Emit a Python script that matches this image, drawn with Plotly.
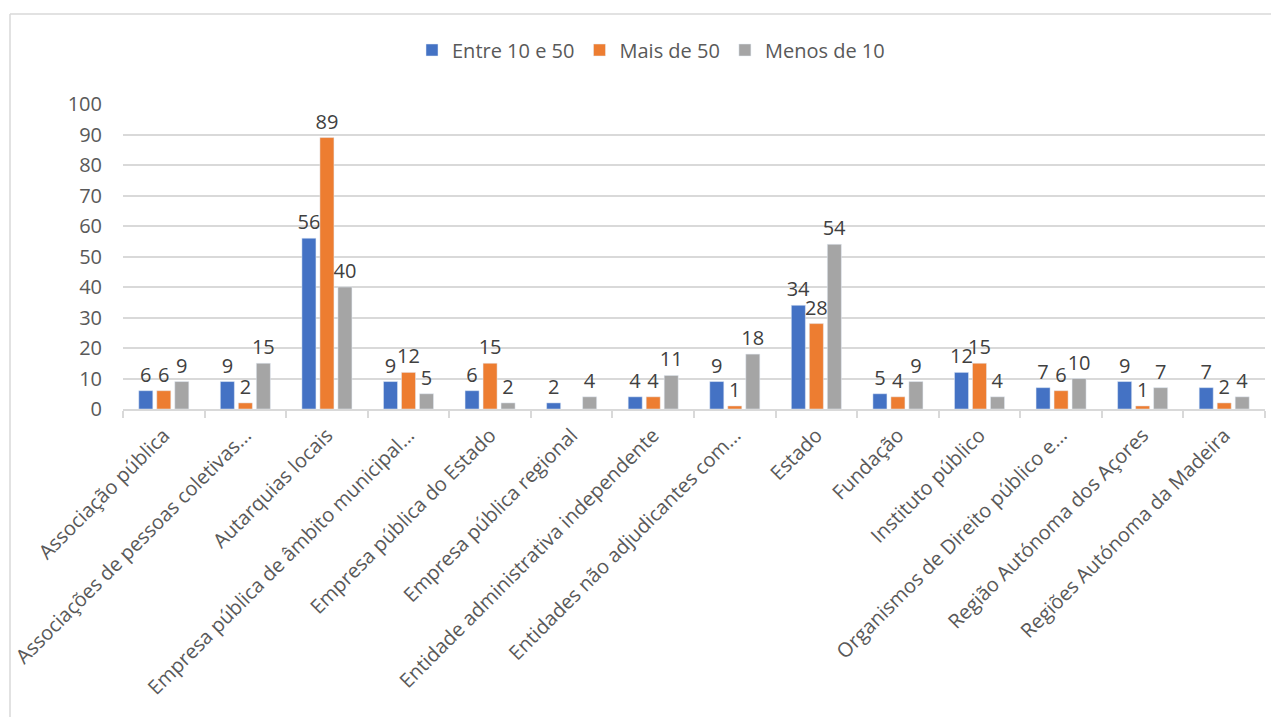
import plotly.graph_objects as go

categories = [
    "Associação pública",
    "Associações de pessoas coletivas...",
    "Autarquias locais",
    "Empresa pública de âmbito municipal...",
    "Empresa pública do Estado",
    "Empresa pública regional",
    "Entidade administrativa independente",
    "Entidades não adjudicantes com...",
    "Estado",
    "Fundação",
    "Instituto público",
    "Organismos de Direito público e...",
    "Região Autónoma dos Açores",
    "Regiões Autónoma da Madeira",
]
entre_10_50 = [6, 9, 56, 9, 6, 2, 4, 9, 34, 5, 12, 7, 9, 7]
mais_de_50 = [6, 2, 89, 12, 15, None, 4, 1, 28, 4, 15, 6, 1, 2]
menos_de_10 = [9, 15, 40, 5, 2, 4, 11, 18, 54, 9, 4, 10, 7, 4]

series = [
    ("Entre 10 e 50", entre_10_50, "#4472C4"),
    ("Mais de 50", mais_de_50, "#ED7D31"),
    ("Menos de 10", menos_de_10, "#A5A5A5"),
]

FONT = "Open Sans"
fig = go.Figure()
for name, vals, color in series:
    fig.add_trace(go.Bar(
        x=categories, y=vals, name=name, marker_color=color,
        text=[("" if v is None else str(v)) for v in vals],
        textposition="outside", cliponaxis=False, constraintext="none",
        textfont=dict(family=FONT, size=20, color="#404040"),
    ))

# page body has an 8px margin; work in page pixels and convert
OFF = 8
W, H = 1279 - OFF, 717 - OFF
L = 123 - OFF
R = W - (1265 - OFF)
T = 104 - OFF
B = H - (409 - OFF)
pw = W - L - R
ph = H - T - B

def px_x(p):
    return (p - OFF - L) / pw

def px_y(p):
    return 1 - (p - OFF - T) / ph

fig.update_layout(
    width=W, height=H,
    margin=dict(l=L, r=R, t=T, b=B, autoexpand=False),
    plot_bgcolor="white", paper_bgcolor="white",
    barmode="group", bargap=0.338, bargroupgap=0.22,
    font=dict(family=FONT, color="#595959", size=20),
    legend=dict(orientation="h", xref="container", yref="container",
                x=(651 - OFF) / W, xanchor="center", y=1 - (50 - OFF) / H,
                yanchor="middle",
                font=dict(size=20, color="#595959"), itemwidth=30,
                traceorder="normal"),
    yaxis=dict(range=[0, 100], dtick=10, showgrid=True, gridcolor="#D9D9D9",
               gridwidth=1.5, zeroline=False, showline=False, automargin=False,
               ticklabelstandoff=20,
               tickfont=dict(size=20, color="#595959"), ticks=""),
    xaxis=dict(tickangle=-45, showline=True, linecolor="#D9D9D9", linewidth=1.5,
               ticks="outside", tickson="boundaries", ticklen=7, automargin=False,
               ticklabelstandoff=5,
               tickcolor="#D9D9D9", tickwidth=1.5,
               tickfont=dict(size=20, color="#595959")),
    shapes=[
        dict(type="line", xref="paper", yref="paper",
             x0=px_x(10), x1=px_x(1279), y0=px_y(14), y1=px_y(14),
             line=dict(color="#D9D9D9", width=1.5)),
        dict(type="line", xref="paper", yref="paper",
             x0=px_x(10), x1=px_x(10), y0=px_y(14), y1=px_y(717),
             line=dict(color="#D9D9D9", width=1.5)),
    ],
)

fig.write_html("out.html")
